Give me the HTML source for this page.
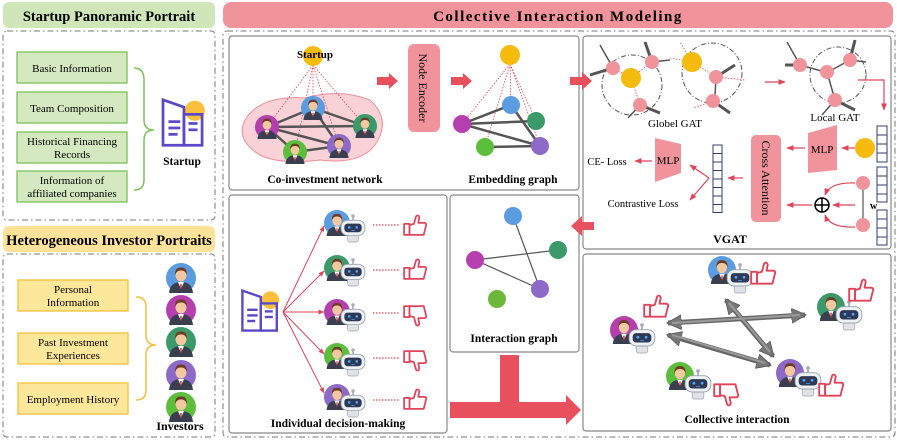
<!DOCTYPE html>
<html><head><meta charset="utf-8"><style>
body{margin:0;background:#fff}
svg{display:block;font-family:"Liberation Serif",serif}
.b{font-weight:bold}
</style></head><body>
<svg width="897" height="440" viewBox="0 0 897 440" xmlns="http://www.w3.org/2000/svg">
<defs>
<symbol id="person" viewBox="-15 -15 30 30" overflow="visible">
<path d="M-12,15 Q-11,4 0,4 Q11,4 12,15 Z" fill="#3a3f4f"/>
<path d="M-3,4 L0,11 L3,4 Z" fill="#fff"/>
<path d="M-0.8,6 L0.8,6 L0.6,11 L-0.6,11Z" fill="#c33"/>
<ellipse cx="0" cy="-3" rx="5.5" ry="6.5" fill="#f3c7a0"/>
<path d="M-6,-3 Q-6,-11 0,-10.5 Q6,-11 6,-3 Q4,-8 0,-7.5 Q-4,-8 -6,-3Z" fill="#6b3d22"/>
</symbol>
<symbol id="robot" viewBox="-12 -12 24 24" overflow="visible">
<line x1="0" y1="-12" x2="0" y2="-8" stroke="#aab" stroke-width="1.5"/>
<circle cx="0" cy="-12" r="1.6" fill="#aab"/>
<rect x="-5" y="5" width="10" height="7" rx="2" fill="#dfe3e8" stroke="#9aa3ad" stroke-width=".6"/>
<rect x="-11" y="-8" width="22" height="14" rx="6" fill="#eef1f4" stroke="#9aa3ad" stroke-width=".8"/>
<rect x="-8" y="-5" width="16" height="8" rx="3" fill="#2e3a55"/>
<circle cx="-3.5" cy="-1.5" r="1.2" fill="#4aa8ff"/><circle cx="3.5" cy="-1.5" r="1.2" fill="#4aa8ff"/>
<path d="M-1.5,1 Q0,2 1.5,1" stroke="#4aa8ff" stroke-width=".7" fill="none"/>
</symbol>
<symbol id="up" viewBox="0 0 22 20" overflow="visible">
<g fill="#fff" stroke="#e0445a" stroke-width="1.6" stroke-linejoin="round">
<rect x="1" y="9" width="5" height="10"/>
<path d="M6,10 L10,9 L12,2 Q14,0 15,3 L14,8 L20,8 Q22,9 21,11 L19,19 L6,19 Z"/>
</g></symbol>
<symbol id="down" viewBox="0 0 22 20" overflow="visible">
<g transform="translate(0,20) scale(1,-1)"><use href="#up" width="22" height="20"/></g>
</symbol>
<symbol id="icon" viewBox="0 0 50 55" overflow="visible">
<circle cx="38" cy="14" r="11" fill="#fbbf3b"/>
<g fill="none" stroke="#5b49c8" stroke-width="3">
<path d="M3,2 L26,10 L26,52 L3,52 Z"/>
<rect x="26" y="18" width="20" height="34"/>
</g>
<g stroke="#5b49c8" stroke-width="3"><line x1="9" y1="26" x2="22" y2="26"/><line x1="9" y1="33" x2="22" y2="33"/><line x1="9" y1="40" x2="19" y2="40"/><line x1="31" y1="28" x2="41" y2="28"/><line x1="31" y1="35" x2="41" y2="35"/></g>
</symbol>
<marker id="ra" viewBox="0 0 10 10" refX="9" refY="5" markerWidth="6" markerHeight="6" orient="auto-start-reverse"><path d="M0,1 L10,5 L0,9Z" fill="#e0445a"/></marker>
<marker id="ga" viewBox="0 0 10 10" refX="9" refY="5" markerWidth="3" markerHeight="3" orient="auto-start-reverse"><path d="M0,0 L10,5 L0,10Z" fill="#777" stroke="#555" stroke-width=".5"/></marker>
</defs>

<!-- headers -->
<rect x="3" y="2" width="212" height="26" rx="6" fill="#cfe6b9"/>
<text x="109" y="21" text-anchor="middle" class="b" font-size="14.5">Startup Panoramic Portrait</text>
<rect x="3" y="226" width="212" height="26" rx="6" fill="#fde39a"/>
<text x="109" y="245" text-anchor="middle" class="b" font-size="14.5">Heterogeneous Investor Portraits</text>
<rect x="223" y="2" width="670" height="26" rx="8" fill="#f0939b"/>
<text x="558" y="21" text-anchor="middle" class="b" font-size="15" letter-spacing="1.5">Collective Interaction Modeling</text>

<g fill="none" stroke="#777" stroke-width="1" stroke-dasharray="6,3,1.5,3">
<rect x="3" y="31" width="212" height="189" rx="4"/>
<rect x="3" y="254" width="212" height="183" rx="4"/>
<rect x="223" y="31" width="672" height="406" rx="4"/>
</g>

<!-- left green boxes -->
<g fill="#d4e9c0" stroke="#7cc15a" stroke-width="1.3">
<rect x="17" y="52" width="110" height="31"/><rect x="17" y="92" width="110" height="31"/>
<rect x="17" y="132" width="110" height="31"/><rect x="17" y="171" width="110" height="31"/>
</g>
<g font-size="11" text-anchor="middle">
<text x="72" y="72">Basic Information</text><text x="72" y="112">Team Composition</text>
<text x="72" y="145">Historical Financing</text><text x="72" y="158">Records</text>
<text x="72" y="184">Information of</text><text x="72" y="197">affiliated companies</text>
</g>
<path d="M134,68 Q144,68 144,80 L144,120 Q144,130 154,130 Q144,130 144,140 L144,180 Q144,190 134,190" fill="none" stroke="#7cc15a" stroke-width="1.5"/>
<use href="#icon" x="160" y="98" width="46" height="50"/>
<text x="182" y="165" text-anchor="middle" class="b" font-size="11.5">Startup</text>

<!-- yellow boxes -->
<g fill="#fde79a" stroke="#f5bf3a" stroke-width="1.3">
<rect x="18" y="280" width="110" height="31"/><rect x="18" y="333" width="110" height="31"/><rect x="18" y="383" width="110" height="31"/>
</g>
<g font-size="11" text-anchor="middle">
<text x="73" y="293">Personal</text><text x="73" y="306">Information</text>
<text x="73" y="346">Past Investment</text><text x="73" y="359">Experiences</text>
<text x="73" y="403">Employment History</text>
</g>
<path d="M136,297 Q146,297 146,307 L146,335 Q146,345 156,345 Q146,345 146,355 L146,390 Q146,400 136,400" fill="none" stroke="#f5bf3a" stroke-width="1.5"/>
<g>
<circle cx="181" cy="278" r="15" fill="#5b9be0"/><use href="#person" x="166" y="263" width="30" height="30"/>
<circle cx="181" cy="310" r="15" fill="#b63fb0"/><use href="#person" x="166" y="295" width="30" height="30"/>
<circle cx="181" cy="342" r="15" fill="#3c9a6a"/><use href="#person" x="166" y="327" width="30" height="30"/>
<circle cx="181" cy="375" r="15" fill="#8e6ac8"/><use href="#person" x="166" y="360" width="30" height="30"/>
<circle cx="181" cy="407" r="15" fill="#5cbf3b"/><use href="#person" x="166" y="392" width="30" height="30"/>
</g>
<text x="180" y="430" text-anchor="middle" class="b" font-size="12">Investors</text>

<!-- panels -->
<g fill="#fff" stroke="#888" stroke-width="1.2">
<rect x="229" y="36" width="350" height="154" rx="3"/>
<rect x="583" y="36" width="308" height="213" rx="3"/>
<rect x="229" y="195" width="218" height="238" rx="3"/>
<rect x="450" y="195" width="129" height="157" rx="3"/>
<rect x="583" y="254" width="308" height="177" rx="3"/>
</g>

<!-- co-investment -->
<path d="M245,120 Q260,95 305,98 Q340,88 370,100 Q392,120 375,145 Q360,165 320,160 Q280,165 260,155 Q235,140 245,120Z" fill="#f8d2d6" stroke="#ee8f9a" stroke-width="1"/>
<g stroke="#e0445a" stroke-width=".8" stroke-dasharray="1.5,1.5">
<line x1="313" y1="65" x2="267" y2="127"/><line x1="313" y1="65" x2="313" y2="108"/><line x1="313" y1="65" x2="365" y2="126"/><line x1="313" y1="65" x2="295" y2="152"/><line x1="313" y1="65" x2="339" y2="146"/>
</g>
<g stroke="#555" stroke-width="2.5">
<line x1="267" y1="127" x2="313" y2="108"/><line x1="267" y1="127" x2="365" y2="126"/><line x1="313" y1="108" x2="365" y2="126"/><line x1="267" y1="127" x2="339" y2="146"/><line x1="295" y1="152" x2="339" y2="146"/><line x1="313" y1="108" x2="339" y2="146"/><line x1="267" y1="127" x2="295" y2="152"/>
</g>
<circle cx="313" cy="56" r="10" fill="#f5bb0f"/>
<text x="315" y="58" text-anchor="middle" class="b" font-size="11">Startup</text>
<circle cx="267" cy="127" r="12" fill="#b63fb0"/><use href="#person" x="255" y="115" width="24" height="24"/>
<circle cx="313" cy="108" r="12" fill="#5b9be0"/><use href="#person" x="301" y="96" width="24" height="24"/>
<circle cx="365" cy="126" r="12" fill="#3c9a6a"/><use href="#person" x="353" y="114" width="24" height="24"/>
<circle cx="295" cy="152" r="12" fill="#5cbf3b"/><use href="#person" x="283" y="140" width="24" height="24"/>
<circle cx="339" cy="146" r="12" fill="#8e6ac8"/><use href="#person" x="327" y="134" width="24" height="24"/>
<text x="325" y="183" text-anchor="middle" class="b" font-size="11.5">Co-investment network</text>

<g fill="#e8505e">
<path d="M377,77 L389,77 L389,73 L398,81 L389,89 L389,85 L377,85Z"/>
<path d="M451,77 L463,77 L463,73 L472,81 L463,89 L463,85 L451,85Z"/>
<path d="M570,77 L582,77 L582,72 L592,81 L582,90 L582,85 L570,85Z"/>
<path d="M594,222 L582,222 L582,216 L571,226 L582,236 L582,230 L594,230Z"/>
</g>
<rect x="408" y="44" width="32" height="88" rx="6" fill="#f0939b"/>
<text transform="translate(419,88) rotate(90)" text-anchor="middle" font-size="12">Node Encoder</text>

<!-- embedding -->
<g stroke="#e0445a" stroke-width=".8" stroke-dasharray="1.5,1.5">
<line x1="510" y1="64" x2="462" y2="124"/><line x1="510" y1="64" x2="511" y2="105"/><line x1="510" y1="64" x2="536" y2="121"/><line x1="510" y1="64" x2="485" y2="147"/><line x1="510" y1="64" x2="540" y2="146"/>
</g>
<g stroke="#555" stroke-width="2.5">
<line x1="462" y1="124" x2="511" y2="105"/><line x1="462" y1="124" x2="536" y2="121"/><line x1="462" y1="124" x2="540" y2="146"/><line x1="485" y1="147" x2="540" y2="146"/><line x1="511" y1="105" x2="540" y2="146"/>
</g>
<circle cx="510" cy="55" r="10" fill="#f5bb0f"/>
<circle cx="462" cy="124" r="9" fill="#b63fb0"/><circle cx="511" cy="105" r="9" fill="#5b9be0"/><circle cx="536" cy="121" r="9" fill="#3c9a6a"/><circle cx="485" cy="147" r="9" fill="#5cbf3b"/><circle cx="540" cy="146" r="9" fill="#8e6ac8"/>
<text x="513" y="183" text-anchor="middle" class="b" font-size="11.5">Embedding graph</text>

<!-- VGAT -->
<g fill="none" stroke="#555" stroke-width="1" stroke-dasharray="5,2,1,2">
<circle cx="632" cy="85" r="30"/><circle cx="712" cy="73" r="30"/><circle cx="838" cy="75" r="28"/>
</g>
<g stroke="#555" stroke-width="1.5">
<line x1="613" y1="68" x2="600" y2="45"/><line x1="613" y1="68" x2="590" y2="75" stroke-width="3"/>
<line x1="652" y1="62" x2="645" y2="42" stroke-width="3"/><line x1="652" y1="62" x2="670" y2="60"/>
<line x1="640" y1="105" x2="660" y2="113" stroke-width="3"/><line x1="640" y1="105" x2="628" y2="118"/>
<line x1="716" y1="77" x2="735" y2="65" stroke-width="3"/><line x1="716" y1="77" x2="715" y2="96"/>
<line x1="713" y1="101" x2="730" y2="113" stroke-width="3"/>
<line x1="800" y1="65" x2="787" y2="42"/><line x1="800" y1="65" x2="785" y2="65" stroke-width="3"/><line x1="800" y1="65" x2="825" y2="72"/>
<line x1="850" y1="60" x2="855" y2="40" stroke-width="3"/><line x1="850" y1="60" x2="866" y2="62"/><line x1="850" y1="60" x2="828" y2="72"/>
<line x1="835" y1="100" x2="855" y2="110" stroke-width="3"/><line x1="835" y1="100" x2="827" y2="72"/><line x1="835" y1="100" x2="822" y2="115"/>
</g>
<g stroke="#e0445a" stroke-width=".8" stroke-dasharray="1.5,1.5">
<line x1="613" y1="68" x2="631" y2="78"/><line x1="652" y1="62" x2="631" y2="78"/><line x1="640" y1="105" x2="631" y2="78"/>
<line x1="692" y1="62" x2="680" y2="42"/><line x1="692" y1="62" x2="670" y2="58"/><line x1="692" y1="62" x2="716" y2="77"/>
<line x1="716" y1="77" x2="745" y2="80"/><line x1="713" y1="101" x2="693" y2="108"/>
</g>
<g fill="#f0939b">
<circle cx="613" cy="68" r="7"/><circle cx="652" cy="62" r="7"/><circle cx="640" cy="105" r="7"/>
<circle cx="716" cy="77" r="7"/><circle cx="713" cy="101" r="7"/>
<circle cx="800" cy="65" r="7"/><circle cx="850" cy="60" r="7"/><circle cx="827" cy="72" r="7"/><circle cx="835" cy="100" r="7"/>
</g>
<circle cx="631" cy="78" r="10" fill="#f5bb0f"/><circle cx="692" cy="62" r="10" fill="#f5bb0f"/>
<text x="675" y="127" text-anchor="middle" font-size="11">Globel GAT</text>
<text x="835" y="121" text-anchor="middle" font-size="11">Local GAT</text>
<g stroke="#e0445a" stroke-width="1.2" fill="none" marker-end="url(#ra)">
<line x1="765" y1="82" x2="785" y2="82"/>
<path d="M858,80 L884,80 L884,110"/>
<line x1="856" y1="148" x2="842" y2="148"/>
<line x1="805" y1="148" x2="787" y2="148"/>
<line x1="743" y1="178" x2="728" y2="178"/>
<line x1="652" y1="161" x2="635" y2="161"/>
<line x1="709" y1="178" x2="690" y2="165"/>
<line x1="709" y1="178" x2="690" y2="200"/>
<line x1="855" y1="205" x2="833" y2="205"/>
<path d="M855,183 Q830,182 825,195"/>
<path d="M855,227 Q830,228 825,215"/>
<line x1="812" y1="205" x2="787" y2="205"/>
</g>
<g fill="#fff" stroke="#2c3e70" stroke-width="1">
<rect x="877" y="126" width="10" height="9"/><rect x="877" y="135" width="10" height="9"/><rect x="877" y="144" width="10" height="9"/><rect x="877" y="153" width="10" height="9"/>
<rect x="877" y="167" width="10" height="9"/><rect x="877" y="176" width="10" height="9"/><rect x="877" y="185" width="10" height="9"/><rect x="877" y="194" width="10" height="8"/>
<rect x="877" y="210" width="10" height="9"/><rect x="877" y="219" width="10" height="9"/><rect x="877" y="228" width="10" height="9"/><rect x="877" y="237" width="10" height="8"/>
<rect x="713" y="145" width="9" height="8.5"/><rect x="713" y="153.5" width="9" height="8.5"/><rect x="713" y="162" width="9" height="8.5"/><rect x="713" y="170.5" width="9" height="8.5"/><rect x="713" y="179" width="9" height="8.5"/><rect x="713" y="187.5" width="9" height="8.5"/><rect x="713" y="196" width="9" height="8.5"/><rect x="713" y="204.5" width="9" height="8"/>
</g>
<circle cx="865" cy="148" r="10" fill="#f5bb0f"/>
<path d="M808,133 L837,125 L837,170 L808,173Z" fill="#f0939b"/>
<text x="822" y="153" text-anchor="middle" font-size="11">MLP</text>
<path d="M655,138 L681,144 L681,173 L655,182Z" fill="#f0939b"/>
<text x="668" y="164" text-anchor="middle" font-size="11">MLP</text>
<rect x="751" y="135" width="30" height="87" rx="5" fill="#f0939b"/>
<text transform="translate(762,178) rotate(90)" text-anchor="middle" font-size="12">Cross Attention</text>
<line x1="863" y1="183" x2="863" y2="225" stroke="#555" stroke-width="1.2"/>
<circle cx="863" cy="183" r="7" fill="#f0939b"/><circle cx="863" cy="225" r="7" fill="#f0939b"/>
<text x="870" y="209" class="b" font-size="10">w</text>
<circle cx="822" cy="205" r="7" fill="#fff" stroke="#000" stroke-width="1.5"/>
<line x1="815" y1="205" x2="829" y2="205" stroke="#000" stroke-width="1.5"/><line x1="822" y1="198" x2="822" y2="212" stroke="#000" stroke-width="1.5"/>
<text x="607" y="165" text-anchor="middle" font-size="10.5">CE- Loss</text>
<text x="643" y="207" text-anchor="middle" font-size="10.5">Contrastive Loss</text>
<text x="730" y="243" text-anchor="middle" class="b" font-size="12">VGAT</text>

<!-- interaction graph -->
<g stroke="#555" stroke-width="1.2">
<line x1="513" y1="216" x2="540" y2="289"/><line x1="475" y1="260" x2="558" y2="250"/><line x1="475" y1="260" x2="540" y2="289"/>
</g>
<circle cx="513" cy="216" r="9" fill="#5b9be0"/><circle cx="558" cy="250" r="9" fill="#3c9a6a"/><circle cx="475" cy="260" r="9" fill="#b63fb0"/><circle cx="540" cy="289" r="9" fill="#8e6ac8"/><circle cx="497" cy="299" r="9" fill="#6cb83b"/>
<text x="514" y="342" text-anchor="middle" class="b" font-size="11.5">Interaction graph</text>

<!-- T arrow -->
<path d="M500,355 L519,355 L519,402 L566,402 L566,395 L581,410 L566,425 L566,418 L450,418 L450,402 L500,402Z" fill="#e8505e"/>

<!-- individual -->
<use href="#icon" x="240" y="289" width="40" height="44"/>
<g stroke="#e0445a" stroke-width="1" fill="none" marker-end="url(#ra)">
<line x1="283" y1="312" x2="324" y2="226"/><line x1="283" y1="312" x2="324" y2="271"/><line x1="283" y1="312" x2="324" y2="312"/><line x1="283" y1="312" x2="324" y2="354"/><line x1="283" y1="312" x2="324" y2="393"/>
</g>
<g stroke="#e0445a" stroke-width="1.2" stroke-dasharray="1.5,1.5">
<line x1="373" y1="225" x2="400" y2="225"/><line x1="373" y1="270" x2="400" y2="270"/><line x1="373" y1="313" x2="400" y2="313"/><line x1="373" y1="358" x2="400" y2="358"/><line x1="373" y1="400" x2="400" y2="400"/>
</g>
<g>
<circle cx="337" cy="223" r="13" fill="#5b9be0"/><use href="#person" x="324" y="210" width="26" height="26"/><use href="#robot" x="340" y="216" width="26" height="26"/>
<circle cx="337" cy="268" r="13" fill="#3c9a6a"/><use href="#person" x="324" y="255" width="26" height="26"/><use href="#robot" x="340" y="260" width="26" height="26"/>
<circle cx="337" cy="312" r="13" fill="#b63fb0"/><use href="#person" x="324" y="299" width="26" height="26"/><use href="#robot" x="340" y="305" width="26" height="26"/>
<circle cx="337" cy="356" r="13" fill="#5cbf3b"/><use href="#person" x="324" y="343" width="26" height="26"/><use href="#robot" x="340" y="350" width="26" height="26"/>
<circle cx="337" cy="397" r="13" fill="#8e6ac8"/><use href="#person" x="324" y="384" width="26" height="26"/><use href="#robot" x="340" y="391" width="26" height="26"/>
</g>
<use href="#up" x="403" y="214" width="24" height="22"/>
<use href="#up" x="403" y="258" width="24" height="22"/>
<use href="#down" x="403" y="305" width="24" height="22"/>
<use href="#down" x="403" y="350" width="24" height="22"/>
<use href="#up" x="403" y="388" width="24" height="22"/>
<text x="338" y="427" text-anchor="middle" class="b" font-size="11.5">Individual decision-making</text>

<!-- collective -->
<g stroke="#666" stroke-width="5" marker-start="url(#ga)" marker-end="url(#ga)">
<line x1="668" y1="323" x2="805" y2="315"/>
<line x1="668" y1="335" x2="770" y2="365"/>
<line x1="726" y1="300" x2="773" y2="356"/>
</g>
<g stroke="#999" stroke-width="2.2">
<line x1="672" y1="323" x2="800" y2="315"/><line x1="672" y1="335" x2="765" y2="363"/><line x1="729" y1="303" x2="770" y2="352"/>
</g>
<circle cx="722" cy="270" r="14" fill="#5b9be0"/><use href="#person" x="708" y="256" width="28" height="28"/><use href="#robot" x="726" y="265" width="28" height="28"/>
<circle cx="831" cy="307" r="14" fill="#3c9a6a"/><use href="#person" x="817" y="293" width="28" height="28"/><use href="#robot" x="835" y="302" width="28" height="28"/>
<circle cx="624" cy="330" r="14" fill="#b63fb0"/><use href="#person" x="610" y="316" width="28" height="28"/><use href="#robot" x="628" y="325" width="28" height="28"/>
<circle cx="790" cy="373" r="14" fill="#8e6ac8"/><use href="#person" x="776" y="359" width="28" height="28"/><use href="#robot" x="794" y="368" width="28" height="28"/>
<circle cx="680" cy="376" r="14" fill="#5cbf3b"/><use href="#person" x="666" y="362" width="28" height="28"/><use href="#robot" x="684" y="371" width="28" height="28"/>
<use href="#up" x="750" y="261" width="26" height="24"/>
<use href="#up" x="848" y="278" width="26" height="24"/>
<use href="#up" x="643" y="294" width="26" height="24"/>
<use href="#up" x="818" y="373" width="26" height="24"/>
<use href="#down" x="713" y="383" width="26" height="24"/>
<text x="737" y="423" text-anchor="middle" class="b" font-size="11.5">Collective interaction</text>
</svg>
</body></html>
